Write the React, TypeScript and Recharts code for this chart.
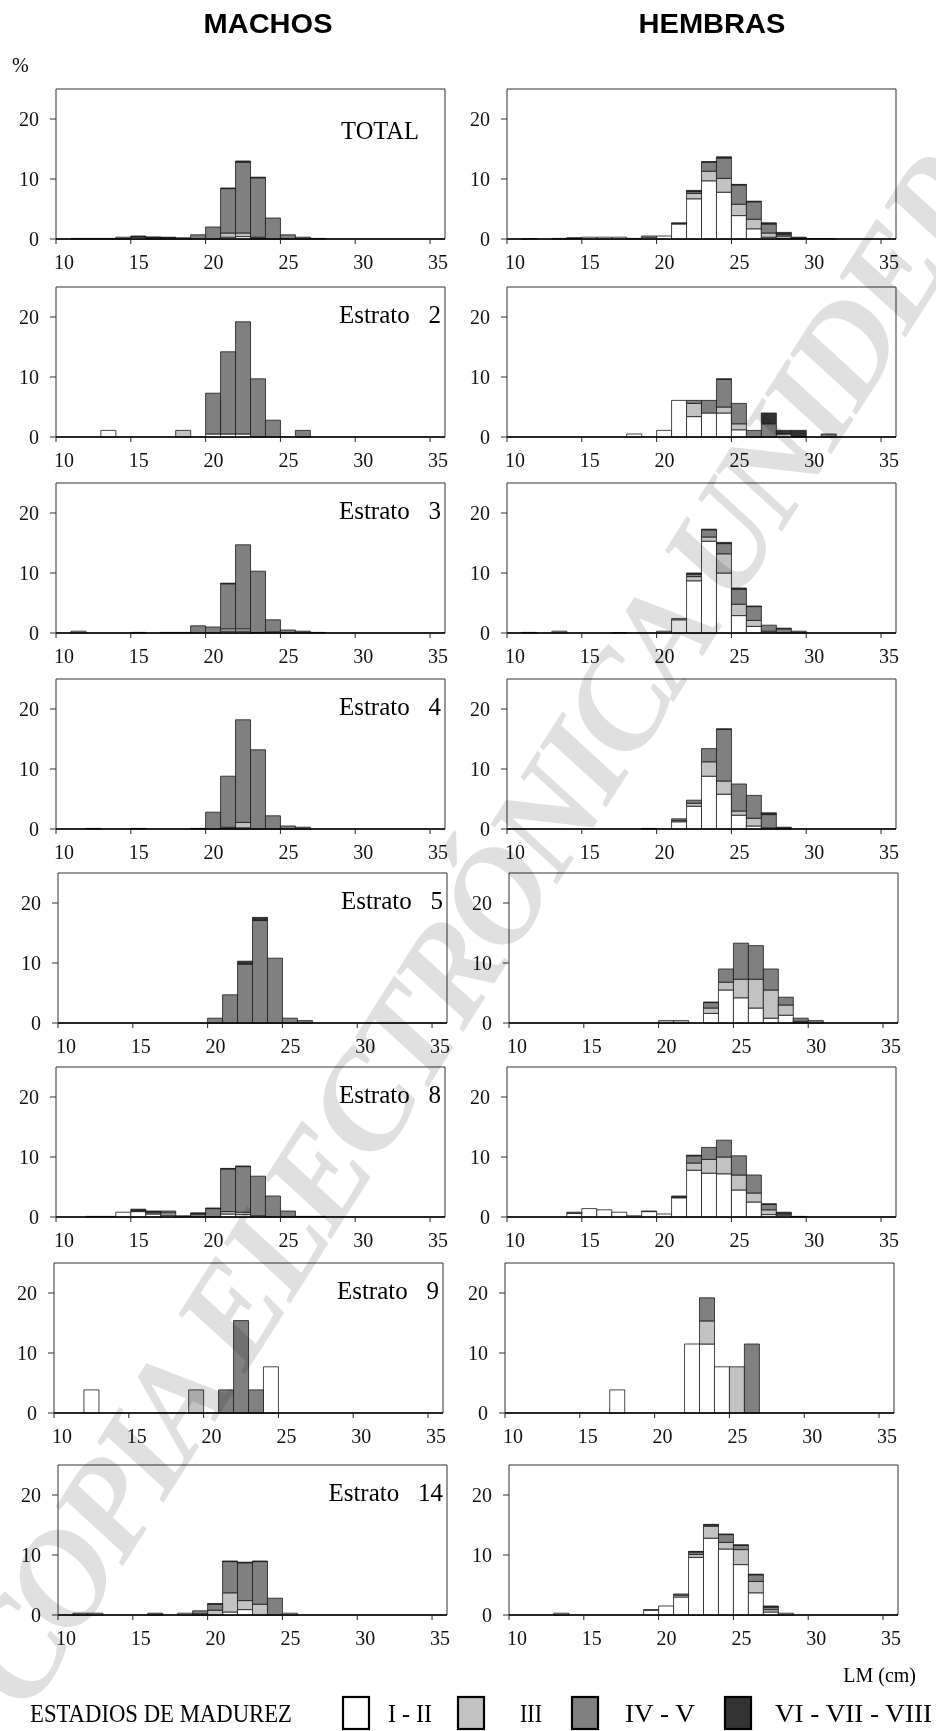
import React from "react";
import { BarChart, Bar, XAxis, YAxis, ReferenceArea } from "recharts";

// length classes (cm, left edge of each 1 cm bin)
const BINS = [10, 11, 12, 13, 14, 15, 16, 17, 18, 19, 20, 21, 22, 23, 24, 25, 26, 27, 28, 29, 30, 31, 32, 33, 34, 35];
const X_TICKS = [10, 15, 20, 25, 30, 35];
const Y_TICKS = [0, 10, 20];

// % by maturity stage: I-II, III, IV-V, VI-VII-VIII
// TOTAL
const mTotalI = [0, 0, 0, 0, 0.1, 0.3, 0.05, 0, 0, 0, 0, 0.3, 0.4, 0.1, 0, 0, 0, 0, 0, 0, 0, 0, 0, 0, 0, 0];
const mTotalIII = [0, 0, 0, 0, 0.2, 0, 0, 0, 0, 0, 0, 0.7, 0.6, 0.2, 0, 0, 0, 0, 0, 0, 0, 0, 0, 0, 0, 0];
const mTotalIV = [0, 0.1, 0.1, 0.1, 0, 0.1, 0.2, 0.2, 0.2, 0.7, 2.0, 7.4, 11.8, 9.9, 3.5, 0.7, 0.3, 0.1, 0, 0, 0, 0, 0, 0, 0, 0];
const mTotalVI = [0, 0, 0, 0, 0, 0.1, 0.1, 0.1, 0, 0, 0, 0.1, 0.2, 0.1, 0, 0, 0, 0, 0, 0, 0, 0, 0, 0, 0, 0];
const hTotalI = [0, 0, 0, 0, 0, 0.3, 0.3, 0.3, 0.1, 0.3, 0.5, 2.5, 6.7, 9.7, 7.8, 3.9, 1.7, 0.3, 0.1, 0, 0, 0, 0, 0, 0, 0];
const hTotalIII = [0, 0.05, 0, 0, 0, 0, 0, 0, 0, 0.2, 0, 0, 0.9, 1.6, 2.3, 1.9, 1.6, 0.7, 0.4, 0, 0.05, 0.05, 0, 0, 0, 0];
const hTotalIV = [0, 0, 0, 0, 0.1, 0, 0, 0, 0, 0, 0, 0, 0.3, 1.5, 3.4, 3.2, 2.9, 1.5, 0.3, 0.1, 0, 0, 0, 0, 0, 0];
const hTotalVI = [0, 0, 0, 0.1, 0.1, 0, 0, 0, 0, 0, 0, 0.2, 0.2, 0.1, 0.2, 0.1, 0.1, 0.2, 0.3, 0.2, 0, 0, 0, 0, 0, 0];

// Estrato 2
const m2I = [0, 0, 0, 1.1, 0, 0, 0, 0, 0, 0, 0.5, 0.5, 0.5, 0, 0, 0, 0, 0, 0, 0, 0, 0, 0, 0, 0, 0];
const m2III = [0, 0, 0, 0, 0, 0, 0, 0, 1.1, 0, 0, 0, 0, 0, 0, 0, 0, 0, 0, 0, 0, 0, 0, 0, 0, 0];
const m2IV = [0, 0, 0, 0, 0, 0, 0, 0, 0, 0, 6.8, 13.7, 18.7, 9.7, 2.8, 0, 1.1, 0, 0, 0, 0, 0, 0, 0, 0, 0];
const m2VI = [0, 0, 0, 0, 0, 0, 0, 0, 0, 0, 0, 0, 0, 0, 0, 0, 0, 0, 0, 0, 0, 0, 0, 0, 0, 0];
const h2I = [0, 0, 0, 0, 0, 0, 0, 0, 0.5, 0, 1.1, 6.1, 3.4, 4.0, 4.0, 1.2, 0, 0, 0, 0, 0, 0, 0, 0, 0, 0];
const h2III = [0, 0, 0, 0, 0, 0, 0, 0, 0, 0, 0, 0, 2.2, 0, 1.0, 1.0, 0, 0, 0.5, 0, 0, 0, 0, 0, 0, 0];
const h2IV = [0, 0, 0, 0, 0, 0, 0, 0, 0, 0, 0, 0, 0.5, 2.1, 4.6, 3.4, 1.1, 2.2, 0, 0, 0, 0.5, 0, 0, 0, 0];
const h2VI = [0, 0, 0, 0, 0, 0, 0, 0, 0, 0, 0, 0, 0, 0, 0.1, 0, 0, 1.8, 0.6, 1.1, 0, 0, 0, 0, 0, 0];

// Estrato 3
const m3I = [0, 0, 0, 0, 0, 0, 0, 0, 0, 0, 0, 0.3, 0.3, 0.1, 0, 0, 0, 0, 0, 0, 0, 0, 0, 0, 0, 0];
const m3III = [0, 0.3, 0, 0, 0, 0, 0, 0, 0, 0, 0, 0.4, 0.4, 0, 0.2, 0, 0, 0, 0, 0, 0, 0, 0, 0, 0, 0];
const m3IV = [0, 0, 0, 0, 0, 0.1, 0, 0.1, 0.1, 1.2, 1.0, 7.5, 14.0, 10.2, 2.0, 0.5, 0.3, 0.1, 0, 0, 0, 0, 0, 0, 0, 0];
const m3VI = [0, 0, 0, 0, 0, 0, 0, 0, 0, 0, 0, 0.1, 0, 0, 0, 0, 0, 0, 0, 0, 0, 0, 0, 0, 0, 0];
const h3I = [0, 0, 0, 0, 0, 0, 0, 0, 0, 0, 0, 2.2, 8.7, 15.3, 10.0, 2.9, 1.1, 0, 0, 0, 0, 0, 0, 0, 0, 0];
const h3III = [0, 0, 0, 0.3, 0, 0, 0, 0.05, 0, 0, 0.3, 0.2, 0.7, 0.7, 3.2, 1.9, 1.0, 0.3, 0, 0, 0, 0, 0, 0, 0, 0];
const h3IV = [0, 0.1, 0, 0, 0, 0, 0, 0, 0, 0, 0, 0, 0.4, 1.2, 1.7, 2.5, 2.3, 1.0, 0.7, 0.3, 0, 0, 0, 0, 0, 0];
const h3VI = [0, 0, 0, 0, 0, 0, 0, 0, 0, 0, 0, 0, 0.2, 0.1, 0.2, 0.2, 0.1, 0, 0.1, 0, 0, 0, 0, 0, 0, 0];

// Estrato 4
const m4I = [0, 0, 0, 0, 0, 0, 0, 0, 0, 0, 0, 0.1, 0.2, 0, 0, 0, 0, 0, 0, 0, 0, 0, 0, 0, 0, 0];
const m4III = [0, 0, 0, 0, 0, 0, 0, 0, 0, 0, 0, 0.2, 0.9, 0, 0, 0, 0, 0, 0, 0, 0, 0, 0, 0, 0, 0];
const m4IV = [0, 0, 0.1, 0, 0, 0, 0, 0, 0, 0.1, 2.8, 8.5, 17.1, 13.2, 2.2, 0.5, 0.3, 0, 0, 0, 0, 0, 0, 0, 0, 0];
const m4VI = [0, 0, 0, 0, 0, 0.1, 0, 0, 0, 0, 0, 0, 0, 0, 0, 0, 0, 0, 0, 0, 0, 0, 0, 0, 0, 0];
const h4I = [0, 0, 0, 0, 0, 0, 0, 0, 0, 0, 0, 1.2, 3.8, 8.8, 5.8, 2.3, 0.5, 0, 0, 0, 0, 0, 0, 0, 0, 0];
const h4III = [0, 0, 0, 0, 0, 0, 0, 0, 0, 0, 0, 0.2, 0.5, 2.4, 2.2, 0.7, 1.3, 0.2, 0, 0, 0, 0, 0, 0, 0, 0];
const h4IV = [0, 0, 0, 0, 0, 0, 0, 0, 0, 0.1, 0, 0.3, 0.5, 2.2, 8.6, 4.5, 3.8, 2.2, 0, 0, 0, 0, 0, 0, 0, 0];
const h4VI = [0, 0, 0, 0, 0, 0, 0, 0, 0, 0, 0, 0, 0, 0, 0.1, 0, 0, 0.3, 0.3, 0, 0, 0, 0, 0, 0, 0];

// Estrato 5
const m5I = [0, 0, 0, 0, 0, 0, 0, 0, 0, 0, 0, 0, 0, 0, 0, 0, 0, 0, 0, 0, 0, 0, 0, 0, 0, 0];
const m5III = [0, 0, 0, 0, 0, 0, 0, 0, 0, 0, 0, 0, 0, 0, 0, 0, 0, 0, 0, 0, 0, 0, 0, 0, 0, 0];
const m5IV = [0, 0, 0, 0, 0, 0, 0, 0, 0, 0, 0.8, 4.7, 9.8, 17.1, 10.8, 0.8, 0.4, 0, 0, 0, 0, 0, 0, 0, 0, 0];
const m5VI = [0, 0, 0, 0, 0, 0, 0, 0, 0, 0, 0, 0, 0.5, 0.5, 0, 0, 0, 0, 0, 0, 0, 0, 0, 0, 0, 0];
const h5I = [0, 0, 0, 0, 0, 0, 0, 0, 0, 0, 0, 0, 0, 1.6, 5.5, 4.2, 2.5, 0.8, 1.3, 0.1, 0, 0, 0, 0, 0, 0];
const h5III = [0, 0, 0, 0, 0, 0, 0, 0, 0, 0, 0.4, 0.4, 0, 0.9, 1.3, 3.1, 4.8, 4.7, 1.7, 0.2, 0, 0, 0, 0, 0, 0];
const h5IV = [0, 0, 0, 0, 0, 0, 0, 0, 0, 0, 0, 0, 0, 0.9, 2.2, 6.0, 5.6, 3.5, 1.3, 0.5, 0.4, 0, 0, 0, 0, 0];
const h5VI = [0, 0, 0, 0, 0, 0, 0, 0, 0, 0, 0, 0, 0, 0.1, 0, 0, 0, 0, 0, 0, 0, 0, 0, 0, 0, 0];

// Estrato 8
const m8I = [0, 0, 0, 0, 0.8, 0.9, 0.5, 0.3, 0, 0, 0, 0.5, 0.4, 0.2, 0, 0, 0, 0, 0, 0, 0, 0, 0, 0, 0, 0];
const m8III = [0, 0, 0, 0, 0, 0, 0, 0.4, 0, 0, 0, 0.4, 0.4, 0, 0, 0, 0, 0, 0, 0, 0, 0, 0, 0, 0, 0];
const m8IV = [0, 0, 0.1, 0.1, 0, 0.2, 0.3, 0.3, 0.2, 0.5, 1.4, 7.1, 7.6, 6.6, 3.5, 1.0, 0.1, 0.1, 0, 0, 0, 0, 0, 0, 0, 0];
const m8VI = [0, 0, 0, 0, 0, 0.2, 0.2, 0, 0, 0.2, 0.1, 0.1, 0.1, 0, 0, 0, 0, 0, 0, 0, 0, 0, 0, 0, 0, 0];
const h8I = [0, 0, 0, 0, 0.6, 1.4, 1.2, 0.8, 0.2, 0.9, 0.5, 3.2, 7.8, 7.3, 7.2, 4.5, 2.5, 0.4, 0.3, 0, 0, 0, 0, 0, 0, 0];
const h8III = [0, 0, 0, 0, 0, 0, 0, 0, 0, 0.1, 0, 0, 1.2, 2.3, 2.8, 2.5, 1.5, 0.8, 0.2, 0.1, 0, 0, 0, 0, 0, 0];
const h8IV = [0, 0, 0, 0, 0.2, 0, 0, 0, 0, 0, 0, 0, 1.2, 2.0, 2.8, 3.2, 3.0, 0.9, 0, 0, 0, 0, 0, 0, 0, 0];
const h8VI = [0, 0, 0, 0, 0, 0, 0, 0, 0, 0, 0, 0.3, 0.1, 0, 0, 0, 0, 0.1, 0.3, 0, 0, 0, 0, 0, 0, 0];

// Estrato 9
const m9I = [0, 0, 3.85, 0, 0, 0, 0, 0, 0, 0, 0, 0, 0, 0, 7.7, 0, 0, 0, 0, 0, 0, 0, 0, 0, 0, 0];
const m9III = [0, 0, 0, 0, 0, 0, 0, 0, 0, 3.85, 0, 0, 0, 0, 0, 0, 0, 0, 0, 0, 0, 0, 0, 0, 0, 0];
const m9IV = [0, 0, 0, 0, 0, 0, 0, 0, 0, 0, 0, 3.85, 15.4, 3.85, 0, 0, 0, 0, 0, 0, 0, 0, 0, 0, 0, 0];
const m9VI = [0, 0, 0, 0, 0, 0, 0, 0, 0, 0, 0, 0, 0, 0, 0, 0, 0, 0, 0, 0, 0, 0, 0, 0, 0, 0];
const h9I = [0, 0, 0, 0, 0, 0, 0, 3.85, 0, 0, 0, 0, 11.5, 11.5, 7.7, 0, 0, 0, 0, 0, 0, 0, 0, 0, 0, 0];
const h9III = [0, 0, 0, 0, 0, 0, 0, 0, 0, 0, 0, 0, 0, 3.85, 0, 7.7, 0, 0, 0, 0, 0, 0, 0, 0, 0, 0];
const h9IV = [0, 0, 0, 0, 0, 0, 0, 0, 0, 0, 0, 0, 0, 3.85, 0, 0, 11.5, 0, 0, 0, 0, 0, 0, 0, 0, 0];
const h9VI = [0, 0, 0, 0, 0, 0, 0, 0, 0, 0, 0, 0, 0, 0, 0, 0, 0, 0, 0, 0, 0, 0, 0, 0, 0, 0];

// Estrato 14
const m14I = [0, 0, 0, 0, 0, 0, 0, 0, 0, 0, 0, 0.5, 0.9, 0, 0, 0, 0, 0, 0, 0, 0, 0, 0, 0, 0, 0];
const m14III = [0, 0.3, 0.3, 0, 0, 0, 0, 0, 0.3, 0.2, 0.8, 3.2, 1.5, 1.8, 0, 0.3, 0, 0, 0, 0, 0, 0, 0, 0, 0, 0];
const m14IV = [0, 0, 0, 0, 0, 0, 0.3, 0, 0, 0.5, 1.0, 5.2, 6.3, 7.1, 2.8, 0, 0, 0, 0, 0, 0, 0, 0, 0, 0, 0];
const m14VI = [0, 0, 0, 0, 0, 0, 0, 0, 0, 0, 0.1, 0.1, 0.1, 0.1, 0, 0, 0, 0, 0, 0, 0, 0, 0, 0, 0, 0];
const h14I = [0, 0, 0, 0, 0, 0, 0, 0, 0, 0.8, 1.5, 3.0, 9.6, 12.8, 11.0, 8.4, 3.7, 0.5, 0, 0, 0, 0, 0, 0, 0, 0];
const h14III = [0, 0, 0, 0.3, 0, 0, 0, 0, 0, 0.1, 0, 0.3, 0.5, 2.0, 1.1, 2.5, 1.9, 0.4, 0.3, 0, 0, 0, 0, 0, 0, 0];
const h14IV = [0, 0, 0, 0, 0, 0, 0, 0, 0, 0, 0, 0.2, 0.4, 0.2, 1.3, 0.7, 1.1, 0.4, 0, 0, 0, 0, 0, 0, 0, 0];
const h14VI = [0, 0, 0, 0, 0, 0, 0, 0, 0, 0, 0, 0, 0.1, 0.1, 0.1, 0.1, 0.1, 0.2, 0, 0, 0, 0, 0, 0, 0, 0];

const ROW_LABELS = ["TOTAL", "Estrato   2", "Estrato   3", "Estrato   4", "Estrato   5", "Estrato   8", "Estrato   9", "Estrato   14"];
const MALES = [
  [mTotalI, mTotalIII, mTotalIV, mTotalVI],
  [m2I, m2III, m2IV, m2VI],
  [m3I, m3III, m3IV, m3VI],
  [m4I, m4III, m4IV, m4VI],
  [m5I, m5III, m5IV, m5VI],
  [m8I, m8III, m8IV, m8VI],
  [m9I, m9III, m9IV, m9VI],
  [m14I, m14III, m14IV, m14VI],
];
const FEMALES = [
  [hTotalI, hTotalIII, hTotalIV, hTotalVI],
  [h2I, h2III, h2IV, h2VI],
  [h3I, h3III, h3IV, h3VI],
  [h4I, h4III, h4IV, h4VI],
  [h5I, h5III, h5IV, h5VI],
  [h8I, h8III, h8IV, h8VI],
  [h9I, h9III, h9IV, h9VI],
  [h14I, h14III, h14IV, h14VI],
];
const STAGES = ["I - II", "III", "IV - V", "VI - VII - VIII"];
const STAGE_KEYS = ["s1", "s2", "s3", "s4"];
const STAGE_FILL = ["#ffffff", "#c2c2c2", "#808080", "#333333"];

// layout
const ROW_ZERO = [239, 437, 633, 829, 1023, 1217, 1413, 1615];
const ROW_DX = [0, 0, 0, 0, 2, 0, -2, 2];
const BOX_LEFT = [55.7, 506.7];
const Y_AXIS_W = 58;
const PLOT_W = 389;
const PLOT_H = 150;
const RIGHT_PAD = 22;
const SERIF = "'Liberation Serif', 'Times New Roman', serif";
const SANS = "'Liberation Sans', Arial, sans-serif";

function XTick(props: any) {
  const { x, y, payload } = props;
  return (
    <text x={x + 8} y={y + 16} textAnchor="middle" dominantBaseline="central" fontFamily={SERIF} fontSize={20} fill="#111">
      {payload.value}
    </text>
  );
}

function YTick(props: any) {
  const { x, y, payload } = props;
  return (
    <text x={x - 9} y={y} textAnchor="end" dominantBaseline="central" fontFamily={SERIF} fontSize={20} fill="#111">
      {payload.value}
    </text>
  );
}

function Histogram({ series, left, top }: { series: number[][]; left: number; top: number }) {
  const data = BINS.map((bin, i) => ({
    bin,
    s1: series[0][i],
    s2: series[1][i],
    s3: series[2][i],
    s4: series[3][i],
  }));
  return (
    <div style={{ position: "absolute", left, top }}>
      <BarChart
        width={Y_AXIS_W + PLOT_W + RIGHT_PAD}
        height={PLOT_H + 50}
        data={data}
        margin={{ top: 10, right: RIGHT_PAD, bottom: 0, left: 0 }}
        barCategoryGap={0}
        barGap={0}
      >
        <XAxis
          xAxisId="num"
          dataKey="bin"
          type="number"
          domain={[10, 36]}
          ticks={X_TICKS}
          interval={0}
          height={40}
          tickSize={5}
          axisLine={{ stroke: "#000", strokeWidth: 1.6 }}
          tickLine={{ stroke: "#222" }}
          tick={<XTick />}
        />
        <XAxis xAxisId="cat" dataKey="bin" orientation="top" height={0} hide />
        <YAxis
          domain={[0, 25]}
          ticks={Y_TICKS}
          width={Y_AXIS_W}
          axisLine={false}
          tickSize={6}
          tickLine={{ stroke: "#333" }}
          tick={<YTick />}
        />
        <ReferenceArea xAxisId="num" x1={10} x2={36} y1={0} y2={25} fill="none" stroke="#333" strokeWidth={1} ifOverflow="visible" />
        {STAGE_KEYS.map((k, i) => (
          <Bar
            key={k}
            xAxisId="cat"
            dataKey={k}
            stackId="st"
            fill={STAGE_FILL[i]}
            stroke="#1a1a1a"
            strokeWidth={0.8}
            isAnimationActive={false}
          />
        ))}
      </BarChart>
    </div>
  );
}

export default function App() {
  const legendBoxX = [343, 458, 572, 725];
  const legendTextX = [388, 520, 625, 775];
  const legendTextW = [44, 22, 70, 157];
  return (
    <div style={{ position: "absolute", left: 0, top: 0, width: 936, height: 1731, background: "#fff", overflow: "hidden" }}>
      {ROW_ZERO.map((z, r) => (
        <React.Fragment key={r}>
          <Histogram series={MALES[r]} left={BOX_LEFT[0] - Y_AXIS_W + ROW_DX[r]} top={z - PLOT_H - 10} />
          <Histogram series={FEMALES[r]} left={BOX_LEFT[1] - Y_AXIS_W + ROW_DX[r]} top={z - PLOT_H - 10} />
        </React.Fragment>
      ))}
      <svg width={936} height={1731} style={{ position: "absolute", left: 0, top: 0, pointerEvents: "none" }}>
        <text x={268} y={33} textAnchor="middle" fontFamily={SANS} fontWeight="bold" fontSize={28} textLength={129} lengthAdjust="spacingAndGlyphs">MACHOS</text>
        <text x={712} y={33} textAnchor="middle" fontFamily={SANS} fontWeight="bold" fontSize={28} textLength={147} lengthAdjust="spacingAndGlyphs">HEMBRAS</text>
        <text x={12} y={72} fontFamily={SERIF} fontSize={20}>%</text>
        {ROW_LABELS.map((lab, r) =>
          r === 0 ? (
            <text key={lab} x={419} y={ROW_ZERO[0] - 100} textAnchor="end" fontFamily={SERIF} fontSize={24.5}>{lab}</text>
          ) : (
            <text key={lab} x={441 + ROW_DX[r]} y={ROW_ZERO[r] - 114} textAnchor="end" fontFamily={SERIF} fontSize={25} style={{ whiteSpace: "pre" }}>{lab}</text>
          )
        )}
        <text x={916} y={1682} textAnchor="end" fontFamily={SERIF} fontSize={20}>LM (cm)</text>
        <text x={30} y={1722} fontFamily={SERIF} fontSize={26} textLength={262} lengthAdjust="spacingAndGlyphs">ESTADIOS DE MADUREZ</text>
        {STAGES.map((s, i) => (
          <React.Fragment key={s}>
            <rect x={legendBoxX[i]} y={1697} width={26} height={32} fill={STAGE_FILL[i]} stroke="#000" strokeWidth={2.2} />
            <text x={legendTextX[i]} y={1722} fontFamily={SERIF} fontSize={26} textLength={legendTextW[i]} lengthAdjust="spacingAndGlyphs">{s}</text>
          </React.Fragment>
        ))}
      </svg>
      <svg width={936} height={1731} style={{ position: "absolute", left: 0, top: 0, pointerEvents: "none", mixBlendMode: "multiply" }}>
        <text
          x={-10}
          y={1690}
          transform="rotate(-57.5 -10 1690)"
          dominantBaseline="central"
          fontFamily={SERIF}
          fontWeight="bold"
          fontStyle="italic"
          fontSize={135}
          fill="#e0e0e0"
          textLength={1800}
          lengthAdjust="spacing"
        >
          COPIA ELECTRÓNICA UNIDEP
        </text>
      </svg>
    </div>
  );
}
